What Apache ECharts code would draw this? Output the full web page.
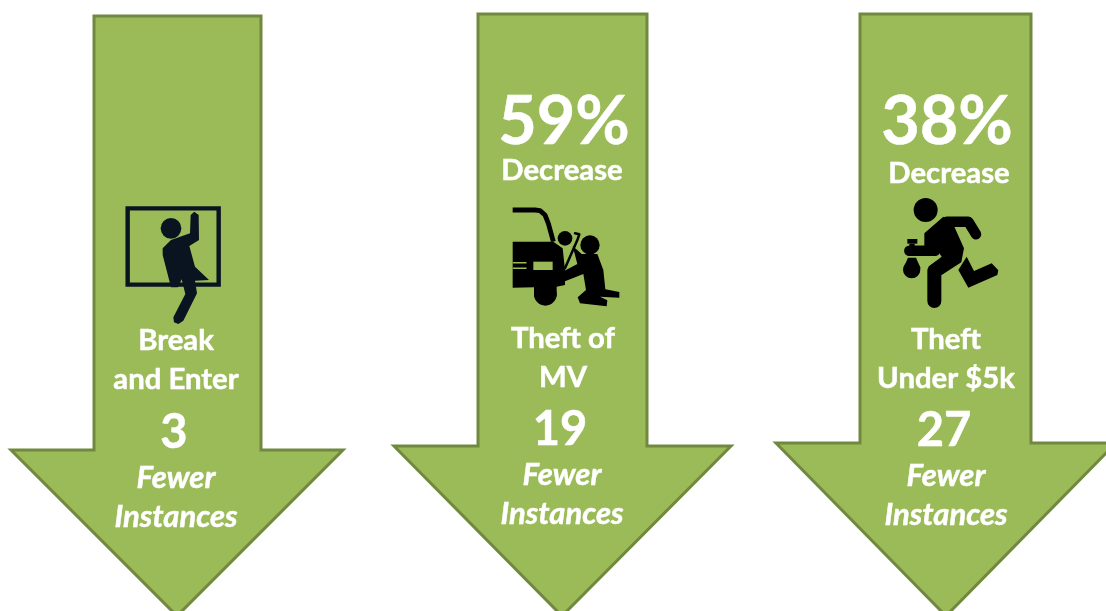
<!DOCTYPE html>
<html>
<head>
<meta charset="utf-8">
<style>html,body{margin:0;padding:0;background:#fff}#c{width:1106px;height:611px}</style>
<script src="https://cdn.jsdelivr.net/npm/echarts@6/dist/echarts.min.js"></script>
</head>
<body>
<div id="c"></div>
<script>
// chart content
var categories = [['Break','and Enter'],['Theft of','MV'],['Theft','Under $5k']];
var percentDecrease = [null, 59, 38];
var fewerInstances = [3, 19, 27];

// layout of the three arrows and their text lines (pixels on the hidden 0..1106 / 0..611 axes)
var arrows = [
  {sl:94, sr:261, top:16, sh:450, hl:11, hr:343,  tx:177, ty:616},
  {sl:478,sr:647, top:14, sh:446, hl:394,hr:731,  tx:562, ty:616},
  {sl:860,sr:1031,top:14, sh:443, hl:776,hr:1116, tx:946, ty:616}
];
var textRows = [
  {pct:null, dec:null, c1:[176,341], c2:[176,380], n:[174,433], f:[176,478], i:[176,517]},
  {pct:[564,123], dec:[562,171], c1:[563,339], c2:[563,378], n:[560,430], f:[562,475], i:[562,514]},
  {pct:[947,123], dec:[949,174], c1:[946,340], c2:[946,379], n:[944,431], f:[946,476], i:[946,515]}
];
var FONT = 'Lato, "Open Sans", sans-serif';

function shapeSet(api, k) {
  var out = [];
  function P(ox, oy, pts) { return pts.map(function (p) { return api.coord([ox + p[0] / 3, oy + p[1] / 3]); }); }
  function poly(ox, oy, pts, col) { out.push({type:'polygon', shape:{points:P(ox,oy,pts)}, style:{fill:col}}); }
  function line(ox, oy, pts, w, col) { out.push({type:'polyline', shape:{points:P(ox,oy,pts)}, style:{fill:null, stroke:col, lineWidth:w, lineCap:'round', lineJoin:'round'}}); }
  function circ(ox, oy, x, y, r, col) { var c = P(ox,oy,[[x,y]])[0]; out.push({type:'circle', shape:{cx:c[0], cy:c[1], r:r/3}, style:{fill:col}}); }
  var G = '#9bbb59';
  if (k === 0) {
    var C = '#0a1420', ox = 100, oy = 190;
    out.push({type:'polygon', shape:{points:P(ox,oy,[[83,55],[356,55],[356,284],[83,284]])}, style:{fill:null, stroke:C, lineWidth:4.4, lineJoin:'miter'}});
    circ(ox,oy,213,115,31,C);
    poly(ox,oy,[[188,175],[213,150],[270,130],[272,75],[283,65],[296,75],[297,150],[268,168],[285,230],[327,270],[285,272],[291,310],[250,392],[235,402],[222,397],[220,382],[256,312],[245,268],[234,292],[213,292],[188,195]],C);
  } else if (k === 1) {
    var K = '#000', ox = 490, oy = 190;
    out.push({type:'polyline', shape:{points:P(ox,oy,[[68,60],[135,60],[150,62],[165,75],[175,100],[190,155]])}, style:{fill:null, stroke:K, lineWidth:4.8, lineJoin:'round'}});
    poly(ox,oy,[[68,155],[190,155],[218,175],[225,240],[225,285],[200,290],[68,293]],K);
    poly(ox,oy,[[132,285],[200,285],[200,320],[132,320]],K);
    circ(ox,oy,166,313,34,K);
    poly(ox,oy,[[130,215],[188,215],[188,240],[130,240]],G);
    line(ox,oy,[[70,218],[108,218]],1.5,G);
    line(ox,oy,[[70,235],[108,235]],1.5,G);
    circ(ox,oy,225,145,22,K);
    circ(ox,oy,300,165,29,K);
    line(ox,oy,[[225,235],[262,150],[268,133],[255,130]],2.5,K);
    poly(ox,oy,[[248,168],[275,192],[322,192],[340,240],[346,298],[388,306],[388,323],[330,320],[352,331],[350,349],[270,340],[263,322],[288,300],[280,252],[225,274],[218,245],[262,222]],K);
  } else {
    var K = '#000', ox = 880, oy = 185;
    circ(ox,oy,137,75,36,K);
    line(ox,oy,[[200,110],[265,110],[288,148]],10.5,K);
    poly(ox,oy,[[133,145],[190,95],[217,112],[252,190],[244,232],[185,270],[145,245],[185,215],[165,185],[133,185]],K);
    line(ox,oy,[[163,348],[163,258],[190,240]],14,K);
    line(ox,oy,[[88,197],[165,197]],10.5,K);
    poly(ox,oy,[[260,215],[282,258],[335,235],[355,256],[352,270],[265,308],[235,255]],K);
    poly(ox,oy,[[82,162],[112,162],[112,176],[82,176]],K);
    poly(ox,oy,[[88,176],[104,176],[104,185],[88,185]],K);
    poly(ox,oy,[[84,218],[108,218],[122,250],[95,262],[70,250]],K);
    circ(ox,oy,95,254,26,K);
  }
  return out;
}

function renderItem(params, api) {
  var k = api.value(0), a = arrows[k], r = textRows[k], kids = [];
  var pts = [[a.sl,a.top],[a.sr,a.top],[a.sr,a.sh],[a.hr,a.sh],[a.tx,a.ty],[a.hl,a.sh],[a.sl,a.sh]].map(function(p){return api.coord(p);});
  kids.push({type:'polygon', shape:{points:pts}, style:{fill:'#9bbb59', stroke:'#71893e', lineWidth:3, lineJoin:'miter'}});
  kids = kids.concat(shapeSet(api, k));
  function txt(s, pos, size, italic) {
    var c = api.coord(pos);
    kids.push({type:'text', x:c[0], y:c[1], style:{text:s, fill:'#fff', stroke:'#fff', lineWidth:0.5, fontFamily:FONT, fontWeight:'bold', fontStyle:italic?'italic':'normal', fontSize:size, align:'center', verticalAlign:'middle'}});
  }
  var pct = percentDecrease[k];
  if (pct !== null) { txt(pct + '%', r.pct, 66.5); txt('Decrease', r.dec, 29.3); }
  txt(categories[k][0], r.c1, 29.3);
  txt(categories[k][1], r.c2, 29.3);
  txt(String(fewerInstances[k]), r.n, 47);
  txt('Fewer', r.f, 31, true);
  txt('Instances', r.i, 31, true);
  return {type:'group', children:kids};
}

var chart = echarts.init(document.getElementById('c'), null, {renderer:'canvas'});
chart.setOption({
  animation:false,
  backgroundColor:'#ffffff',
  grid:{left:0, right:0, top:0, bottom:0},
  xAxis:{type:'value', min:0, max:1106, show:false},
  yAxis:{type:'value', min:0, max:611, inverse:true, show:false},
  series:[{
    type:'custom',
    renderItem:renderItem,
    coordinateSystem:'cartesian2d',
    clip:false,
    encode:{x:0, y:1},
    data:fewerInstances.map(function(v,i){return [i, v];})
  }]
});
</script>
</body>
</html>
